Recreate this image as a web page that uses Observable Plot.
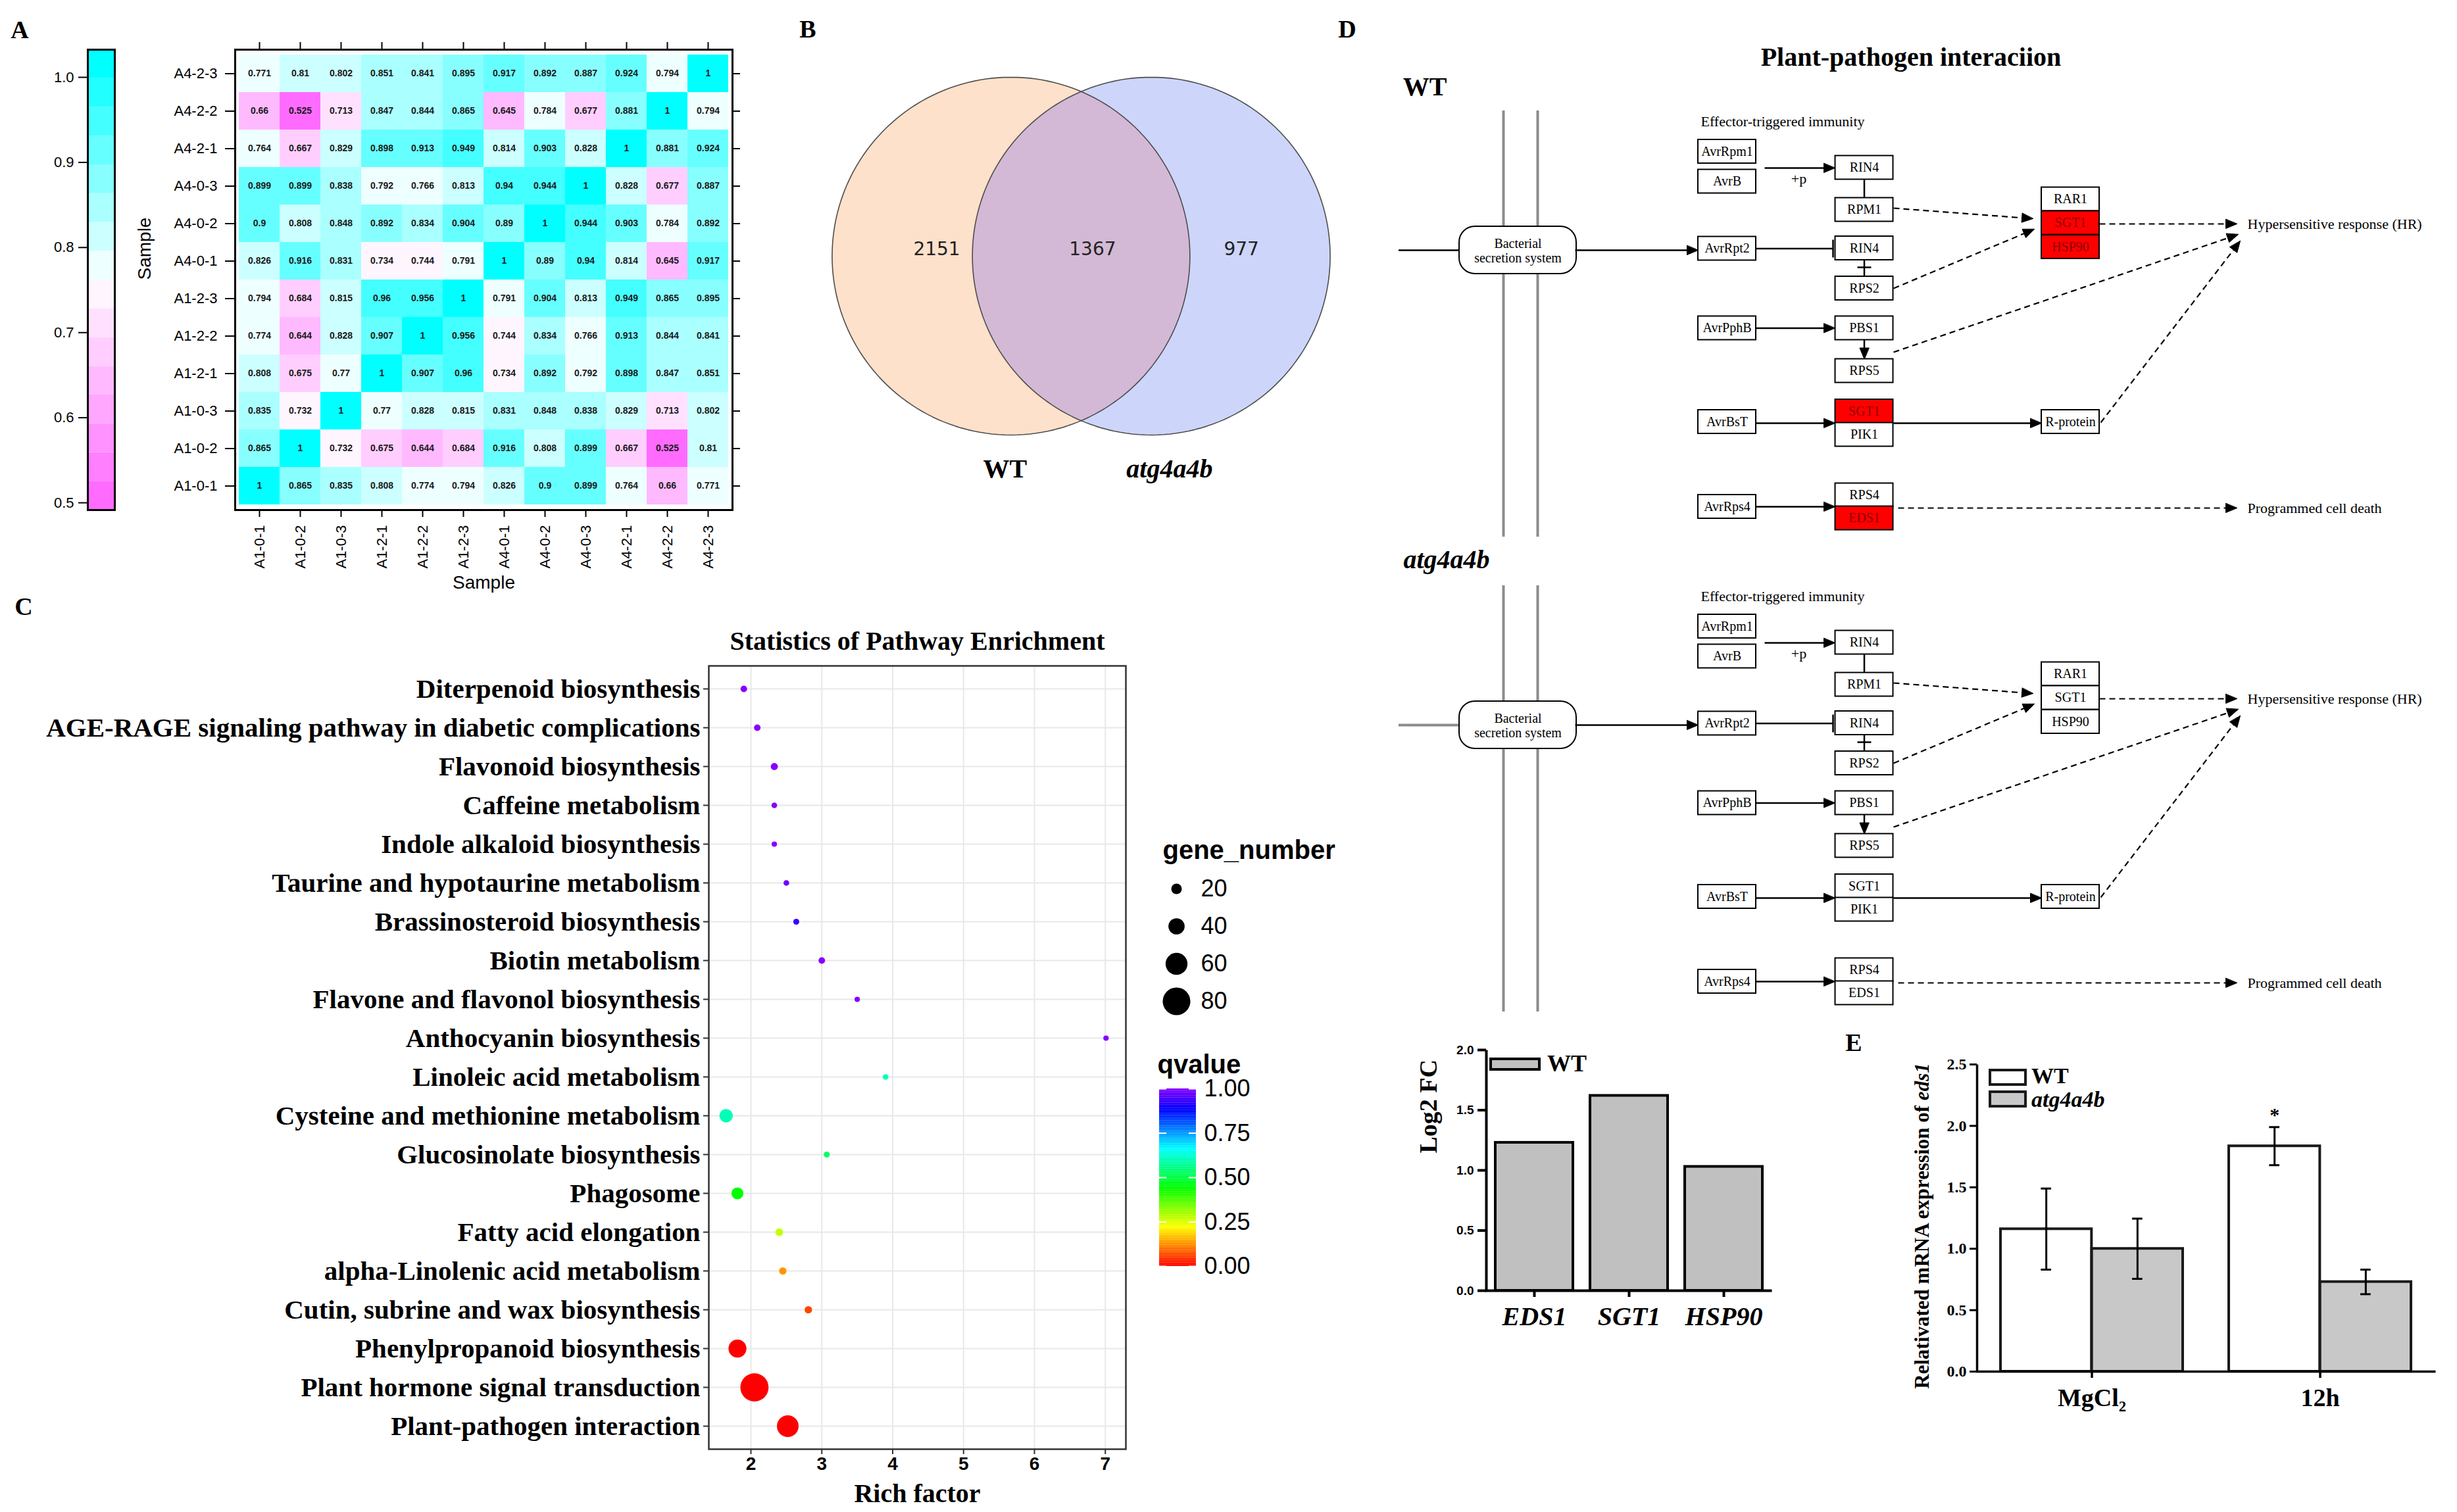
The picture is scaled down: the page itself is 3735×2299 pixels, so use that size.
<!DOCTYPE html>
<html><head><meta charset="utf-8">
<script src="https://cdn.jsdelivr.net/npm/d3@7"></script>
<script src="https://cdn.jsdelivr.net/npm/@observablehq/plot@0.6"></script>
<style>
html,body{margin:0;padding:0;background:#fff;}
#page{position:relative;width:3735px;height:2299px;background:#fff;overflow:hidden;}
</style></head><body><div id="page"></div>
<script>
// ================= DATA =================
// Panel A: sample correlation heatmap
const samples = ["A1-0-1","A1-0-2","A1-0-3","A1-2-1","A1-2-2","A1-2-3","A4-0-1","A4-0-2","A4-0-3","A4-2-1","A4-2-2","A4-2-3"];
const corrMatrix = [
  [1, 0.865, 0.835, 0.808, 0.774, 0.794, 0.826, 0.9, 0.899, 0.764, 0.66, 0.771],
  [0.865, 1, 0.732, 0.675, 0.644, 0.684, 0.916, 0.808, 0.899, 0.667, 0.525, 0.81],
  [0.835, 0.732, 1, 0.77, 0.828, 0.815, 0.831, 0.848, 0.838, 0.829, 0.713, 0.802],
  [0.808, 0.675, 0.77, 1, 0.907, 0.96, 0.734, 0.892, 0.792, 0.898, 0.847, 0.851],
  [0.774, 0.644, 0.828, 0.907, 1, 0.956, 0.744, 0.834, 0.766, 0.913, 0.844, 0.841],
  [0.794, 0.684, 0.815, 0.96, 0.956, 1, 0.791, 0.904, 0.813, 0.949, 0.865, 0.895],
  [0.826, 0.916, 0.831, 0.734, 0.744, 0.791, 1, 0.89, 0.94, 0.814, 0.645, 0.917],
  [0.9, 0.808, 0.848, 0.892, 0.834, 0.904, 0.89, 1, 0.944, 0.903, 0.784, 0.892],
  [0.899, 0.899, 0.838, 0.792, 0.766, 0.813, 0.94, 0.944, 1, 0.828, 0.677, 0.887],
  [0.764, 0.667, 0.829, 0.898, 0.913, 0.949, 0.814, 0.903, 0.828, 1, 0.881, 0.924],
  [0.66, 0.525, 0.713, 0.847, 0.844, 0.865, 0.645, 0.784, 0.677, 0.881, 1, 0.794],
  [0.771, 0.81, 0.802, 0.851, 0.841, 0.895, 0.917, 0.892, 0.887, 0.924, 0.794, 1]
];
const heatTicks = [0.5, 0.6, 0.7, 0.8, 0.9, 1.0];

// Panel B: Venn
const vennSets = ["WT", "atg4a4b"];
const vennRegions = ["WT only", "shared", "atg4a4b only"];
const vennCounts = [2151, 1367, 977];

// Panel C: KEGG enrichment
const pathways = ["Diterpenoid biosynthesis","AGE-RAGE signaling pathway in diabetic complications","Flavonoid biosynthesis","Caffeine metabolism","Indole alkaloid biosynthesis","Taurine and hypotaurine metabolism","Brassinosteroid biosynthesis","Biotin metabolism","Flavone and flavonol biosynthesis","Anthocyanin biosynthesis","Linoleic acid metabolism","Cysteine and methionine metabolism","Glucosinolate biosynthesis","Phagosome","Fatty acid elongation","alpha-Linolenic acid metabolism","Cutin, subrine and wax biosynthesis","Phenylpropanoid biosynthesis","Plant hormone signal transduction","Plant-pathogen interaction"];
const richFactor = [1.90, 2.09, 2.33, 2.33, 2.33, 2.50, 2.64, 3.00, 3.50, 7.01, 3.90, 1.65, 3.07, 1.81, 2.40, 2.45, 2.81, 1.81, 2.05, 2.52];
const geneNumber = [6, 6, 8, 3, 2, 3, 4, 6, 2, 2, 3, 30, 4, 25, 10, 9, 9, 46, 82, 59];
const qValue = [1, 1, 1, 1, 1, 0.98, 0.93, 1, 1, 1, 0.6, 0.6, 0.53, 0.44, 0.27, 0.13, 0.06, 0, 0, 0];
const richTicks = [2, 3, 4, 5, 6, 7];
const geneLegend = [20, 40, 60, 80];
const qTicks = [0, 0.25, 0.5, 0.75, 1];

// Panel D: pathway map
const pwNodeLabels = ["AvrRpm1","AvrB","AvrRpt2","AvrPphB","AvrBsT","AvrRps4","RIN4","RPM1","RIN4","RPS2","PBS1","RPS5","SGT1","PIK1","RPS4","EDS1","RAR1","SGT1","HSP90","R-protein"];
const wtUpGenes = ["SGT1", "HSP90", "EDS1"];
const mutUpGenes = [];

// Panel E: qPCR / log2FC
const fcGenes = ["EDS1", "SGT1", "HSP90"];
const fcWT = [1.23, 1.62, 1.03];
const eds1Groups = ["MgCl₂", "12h"];
const eds1WT = [1.16, 1.835];
const eds1WTsd = [0.33, 0.155];
const eds1Mut = [1.0, 0.73];
const eds1MutSd = [0.245, 0.10];
const eds1Sig = ["", "*"];

// ================= HELPERS =================
const page = document.getElementById("page");
const SERIF = '"Liberation Serif","Times New Roman",serif';
const SANS = '"Liberation Sans",Arial,sans-serif';
function place(el, left, top) {
  el.style.position = "absolute"; el.style.left = left + "px"; el.style.top = top + "px";
  page.appendChild(el); return el;
}
function html(content, css) {
  const d = document.createElement("div");
  d.innerHTML = content;
  d.style.cssText = "position:absolute;white-space:nowrap;line-height:1;" + css;
  page.appendChild(d); return d;
}
const baseStyle = {background: "transparent", overflow: "visible", fontFamily: SANS, color: "black"};

// panel letters
[["A", 30, 45], ["B", 1228, 44], ["C", 36, 922], ["D", 2048, 44], ["E", 2818, 1585]].forEach(([t, x, y]) =>
  html(t, `left:${x}px;top:${y}px;transform:translate(-50%,-50%);font:bold 38px ${SERIF};`));

// ================= PANEL A =================
const lo = 0.4915, hi = 1.0325, nb = 16, bstep = (hi - lo) / nb;
const breaks = d3.range(nb + 1).map(i => lo + i * bstep);
const bandColors = d3.range(nb).map(i => i < 7.5
  ? d3.interpolateRgb("#ff6bff", "#ffffff")(i / 7.5)
  : d3.interpolateRgb("#ffffff", "#00ffff")((i - 7.5) / 7.5));
const heatColor = {type: "threshold", domain: breaks.slice(1, -1), range: bandColors};
const cells = samples.flatMap((r, i) => samples.map((c, j) => ({row: r, col: c, v: corrMatrix[i][j]})));

const heat = Plot.plot({
  width: 940, height: 880, marginLeft: 157, marginRight: 27, marginTop: 35, marginBottom: 145,
  style: baseStyle,
  x: {type: "band", domain: samples, padding: 0, inset: 5},
  y: {type: "band", domain: samples.slice().reverse(), padding: 0, inset: 5},
  color: heatColor,
  marks: [
    Plot.cell(cells, {x: "col", y: "row", fill: "v", inset: 0}),
    Plot.text(cells, {x: "col", y: "row", text: d => String(d.v), fontSize: 14, fontWeight: "bold", fill: "#1a1a1a"}),
    Plot.frame({stroke: "#000", strokeWidth: 3}),
    Plot.axisY({anchor: "left", tickSize: 15, tickPadding: 12, fontSize: 22, strokeWidth: 2, label: null}),
    Plot.axisY({anchor: "right", tickSize: 11, tickFormat: () => "", strokeWidth: 2, label: null}),
    Plot.axisX({anchor: "bottom", tickRotate: -90, tickSize: 11, tickPadding: 12, fontSize: 22, strokeWidth: 2, label: null}),
    Plot.axisX({anchor: "top", tickSize: 12, tickFormat: () => "", strokeWidth: 2, label: null}),
    Plot.text(["Sample"], {frameAnchor: "left", dx: -137, rotate: -90, lineAnchor: "middle", text: d => d, fontSize: 28}),
    Plot.text(["Sample"], {frameAnchor: "bottom", dy: 111, lineAnchor: "middle", text: d => d, fontSize: 28})
  ]
});
place(heat, 200, 40);

const bandData = d3.range(nb).map(i => ({y1: breaks[i], y2: breaks[i + 1]}));
const heatBar = Plot.plot({
  width: 160, height: 740, marginLeft: 103, marginRight: 16, marginTop: 15, marginBottom: 25,
  style: baseStyle,
  y: {domain: [lo, hi]},
  color: heatColor,
  marks: [
    Plot.rect(bandData, {y1: "y1", y2: "y2", fill: d => (d.y1 + d.y2) / 2}),
    Plot.frame({stroke: "#000", strokeWidth: 3}),
    Plot.axisY({ticks: heatTicks, tickFormat: d3.format(".1f"), tickSize: 14, tickPadding: 7, fontSize: 22, strokeWidth: 2, label: null})
  ]
});
place(heatBar, 30, 60);

// ================= PANEL B =================
const vd = 0.392, vth = Math.acos(vd);
const circlePts = cx => d3.range(0, 361, 2).map(a => ({x: cx + Math.cos(a * Math.PI / 180), y: Math.sin(a * Math.PI / 180)}));
const lensPts = [
  ...d3.range(-vth, vth + 1e-9, vth / 40).map(a => ({x: -vd + Math.cos(a), y: Math.sin(a)})),
  ...d3.range(Math.PI - vth, Math.PI + vth + 1e-9, vth / 40).map(a => ({x: vd + Math.cos(a), y: Math.sin(a)}))
];
const vennLabelX = [-0.807, 0.064, 0.896];
const venn = Plot.plot({
  width: 830, height: 680, margin: 0, style: baseStyle,
  x: {domain: [-1.526, 1.526], range: [0, 830], axis: null},
  y: {domain: [-1.099, 1.401], range: [0, 680], axis: null},
  marks: [
    Plot.line(circlePts(-vd), {x: "x", y: "y", fill: "#fde1cb", stroke: "none", curve: "linear-closed"}),
    Plot.line(circlePts(vd), {x: "x", y: "y", fill: "#cdd6fa", stroke: "none", curve: "linear-closed"}),
    Plot.line(lensPts, {x: "x", y: "y", fill: "#d4b9d6", stroke: "none", curve: "linear-closed"}),
    Plot.line(circlePts(-vd), {x: "x", y: "y", stroke: "#4d4d4d", strokeWidth: 1.6, curve: "linear-closed"}),
    Plot.line(circlePts(vd), {x: "x", y: "y", stroke: "#4d4d4d", strokeWidth: 1.6, curve: "linear-closed"}),
    Plot.text(vennCounts, {x: (d, i) => vennLabelX[i], y: -0.04, text: d => String(d), fontSize: 28, fontFamily: '"DejaVu Sans",sans-serif', fill: "#222"}),
    Plot.text([vennSets[0]], {x: -0.425, y: 1.19, text: d => d, fontSize: 40, fontWeight: "bold", fontFamily: SERIF}),
    Plot.text([vennSets[1]], {x: 0.494, y: 1.19, text: d => d, fontSize: 40, fontWeight: "bold", fontStyle: "italic", fontFamily: SERIF})
  ]
});
place(venn, 1228, 90);

// ================= PANEL C =================
const pathwayData = pathways.map((p, i) => ({pathway: p, rich: richFactor[i], genes: geneNumber[i], q: qValue[i]}));
const sizeScale = {type: "linear", domain: [0, 80], range: [3.67, 21]};
const qColor = {type: "linear", domain: [0, 1], range: ["hsl(0,100%,50%)", "hsl(272,100%,50%)"], interpolate: d3.interpolateHslLong};

const bubble = Plot.plot({
  width: 1740, height: 1359, marginLeft: 1077, marginRight: 29, marginTop: 72, marginBottom: 96,
  style: baseStyle,
  x: {domain: [1.406, 7.29]},
  y: {type: "point", domain: pathways, padding: 0.58},
  r: sizeScale,
  color: qColor,
  marks: [
    Plot.gridX({ticks: richTicks, stroke: "#e8e8e8", strokeOpacity: 1, strokeWidth: 2}),
    Plot.gridY({stroke: "#e8e8e8", strokeOpacity: 1, strokeWidth: 2}),
    Plot.frame({stroke: "#333", strokeWidth: 2.5}),
    Plot.dot(pathwayData, {x: "rich", y: "pathway", r: "genes", fill: "q", stroke: "none"}),
    Plot.axisY({tickSize: 8, tickPadding: 5, fontSize: 41, fontFamily: SERIF, fontWeight: "bold", strokeWidth: 2, stroke: "#333", label: null}),
    Plot.axisX({ticks: richTicks, tickFormat: d3.format("d"), tickSize: 8, tickPadding: 4, fontSize: 28, fontFamily: SANS, fontWeight: "bold", strokeWidth: 2, stroke: "#333", label: null}),
    Plot.text(["Statistics of Pathway Enrichment"], {frameAnchor: "top", dy: -37, lineAnchor: "middle", text: d => d, fontSize: 40, fontWeight: "bold", fontFamily: SERIF}),
    Plot.text(["Rich factor"], {frameAnchor: "bottom", dy: 68, lineAnchor: "middle", text: d => d, fontSize: 40, fontWeight: "bold", fontFamily: SERIF})
  ]
});
place(bubble, 0, 940);

const sizeLegend = Plot.plot({
  width: 240, height: 280, marginLeft: 48, marginRight: 0, marginTop: 80, marginBottom: 28,
  style: baseStyle,
  y: {type: "point", domain: geneLegend, padding: 0, axis: null},
  r: sizeScale,
  marks: [
    Plot.dot(geneLegend, {y: d => d, r: d => d, fill: "black", frameAnchor: "left"}),
    Plot.text(geneLegend, {y: d => d, text: d => String(d), frameAnchor: "left", dx: 37, textAnchor: "start", fontSize: 36}),
    Plot.text(["gene_number"], {frameAnchor: "top-left", dx: -21, dy: -57, lineAnchor: "middle", text: d => d, textAnchor: "start", fontSize: 40, fontWeight: "bold"})
  ]
});
place(sizeLegend, 1740, 1270);

const qBins = d3.range(0, 1, 0.01);
const qLegend = Plot.plot({
  width: 240, height: 340, marginLeft: 22, marginRight: 162, marginTop: 55, marginBottom: 15,
  style: baseStyle,
  y: {domain: [0, 1], axis: null},
  color: qColor,
  marks: [
    Plot.rect(qBins, {y1: d => d, y2: d => Math.min(1, d + 0.0105), fill: d => d + 0.005}),
    Plot.tickY(qTicks, {y: d => d, stroke: "white", strokeWidth: 2, insetRight: 45}),
    Plot.tickY(qTicks, {y: d => d, stroke: "white", strokeWidth: 2, insetLeft: 45}),
    Plot.text(qTicks, {y: d => d, text: d3.format(".2f"), frameAnchor: "right", dx: 12, textAnchor: "start", fontSize: 36}),
    Plot.text(["qvalue"], {frameAnchor: "top-left", dx: -3, dy: -36, lineAnchor: "middle", text: d => d, textAnchor: "start", fontSize: 40, fontWeight: "bold"})
  ]
});
place(qLegend, 1740, 1600);

// ================= PANEL D =================
// layout (diagram units)
const pwColX = [525, 733.5, 1047];
const pwNodeLayout = [[0, 80], [0, 125.5], [0, 227.5], [0, 348.5], [0, 491], [0, 620],
  [1, 104.5], [1, 168.5], [1, 227], [1, 288], [1, 348.5], [1, 413.5], [1, 475], [1, 510.5], [1, 602.5], [1, 637.5],
  [2, 152.5], [2, 188.5], [2, 225], [2, 491]];
const pwNodes = pwNodeLabels.map((l, i) => ({label: l, x: pwColX[pwNodeLayout[i][0]], y: pwNodeLayout[i][1]}));
const pwEdges = [
  {x1: 294, y1: 230, x2: 481, y2: 230, dash: false, head: "arrow"},
  {x1: 582, y1: 105, x2: 689, y2: 105, dash: false, head: "arrow"},
  {x1: 569, y1: 227.5, x2: 686, y2: 227.5, dash: false, head: "bar"},
  {x1: 733.5, y1: 122.5, x2: 733.5, y2: 150.5, dash: false, head: "none"},
  {x1: 733.5, y1: 245, x2: 733.5, y2: 270, dash: false, head: "none"},
  {x1: 569, y1: 348.5, x2: 689, y2: 348.5, dash: false, head: "arrow"},
  {x1: 733.5, y1: 366.5, x2: 733.5, y2: 395.5, dash: false, head: "arrow"},
  {x1: 569, y1: 493, x2: 689, y2: 493, dash: false, head: "arrow"},
  {x1: 778, y1: 493, x2: 1003, y2: 493, dash: false, head: "arrow"},
  {x1: 569, y1: 620, x2: 689, y2: 620, dash: false, head: "arrow"},
  {x1: 778, y1: 166, x2: 990, y2: 182, dash: true, head: "arrow"},
  {x1: 778, y1: 288, x2: 992, y2: 198, dash: true, head: "arrow"},
  {x1: 1091, y1: 190, x2: 1300, y2: 190, dash: true, head: "arrow"},
  {x1: 778, y1: 385, x2: 1302, y2: 206, dash: true, head: "arrow"},
  {x1: 1093, y1: 492, x2: 1305, y2: 216, dash: true, head: "arrow"},
  {x1: 785, y1: 622, x2: 1300, y2: 622, dash: true, head: "arrow"}
];
const pwBars = [{x1: 686, x2: 686, y1: 214, y2: 241}, {x1: 723, x2: 744, y1: 256, y2: 256}];
const pwBSS = {x1: 118, x2: 296, y1: 194, y2: 266, cx: 207, cy: 230};
const pwNotes = [
  {t: "Effector-triggered immunity", x: 485, y: 34, a: "start"},
  {t: "+p", x: 634, y: 121, a: "middle"},
  {t: "Hypersensitive response (HR)", x: 1316, y: 190, a: "start"},
  {t: "Programmed cell death", x: 1316, y: 622, a: "start"}
];

function pathwayPlot(redGenes, inputColor, inputWidth) {
  const heads = [], shafts = [];
  pwEdges.forEach((e, k) => {
    if (e.head !== "arrow") { shafts.push(e); return; }
    const dx = e.x2 - e.x1, dy = e.y2 - e.y1, L = Math.hypot(dx, dy), ux = dx / L, uy = dy / L;
    const bx = e.x2 - 17 * ux, by = e.y2 - 17 * uy;
    heads.push({k, x: e.x2, y: e.y2}, {k, x: bx - 7 * uy, y: by + 7 * ux}, {k, x: bx + 7 * uy, y: by - 7 * ux});
    shafts.push({...e, x2: e.x2 - 12 * ux, y2: e.y2 - 12 * uy});
  });
  const red = d => redGenes.includes(d.label);
  return Plot.plot({
    width: 1635, height: 690, margin: 0, style: baseStyle,
    x: {domain: [0, 1635], range: [0, 1635], axis: null},
    y: {domain: [0, 690], range: [0, 690], axis: null},
    marks: [
      Plot.ruleX([185, 237], {x: d => d, y1: 18, y2: 666, stroke: "#8c8c8c", strokeWidth: 4}),
      Plot.ruleY([pwBSS.cy], {y: d => d, x1: 26, x2: pwBSS.x1, stroke: inputColor, strokeWidth: inputWidth}),
      Plot.rect([pwBSS], {x1: "x1", x2: "x2", y1: "y1", y2: "y2", rx: 24, fill: "white", stroke: "black", strokeWidth: 2}),
      Plot.text(["Bacterial\nsecretion system"], {x: pwBSS.cx, y: pwBSS.cy, text: d => d, fontSize: 20, fontFamily: SERIF, lineHeight: 1.1}),
      Plot.link(shafts.filter(d => !d.dash), {x1: "x1", y1: "y1", x2: "x2", y2: "y2", stroke: "black", strokeWidth: 2.5}),
      Plot.link(shafts.filter(d => d.dash), {x1: "x1", y1: "y1", x2: "x2", y2: "y2", stroke: "black", strokeWidth: 2.2, strokeDasharray: "9,6"}),
      Plot.link(pwBars, {x1: "x1", y1: "y1", x2: "x2", y2: "y2", stroke: "black", strokeWidth: 2.5}),
      Plot.line(heads, {x: "x", y: "y", z: "k", fill: "black", stroke: "black", strokeWidth: 1, curve: "linear-closed"}),
      Plot.rect(pwNodes, {x1: d => d.x - 44, x2: d => d.x + 44, y1: d => d.y - 18, y2: d => d.y + 18,
        fill: d => red(d) ? "#ff0000" : "#ffffff", stroke: "black", strokeWidth: 2}),
      Plot.text(pwNodes, {x: "x", y: "y", text: "label", fontSize: 20, fontFamily: SERIF, fill: d => red(d) ? "#8b0000" : "#000000"}),
      Plot.text(pwNotes, {x: "x", y: "y", text: "t", textAnchor: "start", fontSize: 22, fontFamily: SERIF, filter: d => d.a === "start"}),
      Plot.text(pwNotes, {x: "x", y: "y", text: "t", fontSize: 22, fontFamily: SERIF, filter: d => d.a === "middle"})
    ]
  });
}
place(pathwayPlot(wtUpGenes, "#000", 2.5), 2100, 150);
place(pathwayPlot(mutUpGenes, "#8c8c8c", 4), 2100, 872);
html("Plant-pathogen interaciion", `left:2905px;top:86px;transform:translate(-50%,-50%);font:bold 40px ${SERIF};`);
html("WT", `left:2166px;top:131px;transform:translate(-50%,-50%);font:bold 40px ${SERIF};`);
html("atg4a4b", `left:2199px;top:850px;transform:translate(-50%,-50%);font:italic bold 40px ${SERIF};`);

// ================= PANEL E (left) =================
const fcData = fcGenes.map((g, i) => ({gene: g, v: fcWT[i]}));
const fcW = 600, fcH = 480, fcML = 129, fcMR = 37, fcMT = 36, fcMB = 78;
const fcP = (fcW - fcML - fcMR) + (fcH - fcMT - fcMB);
const fcPlot = Plot.plot({
  width: fcW, height: fcH, marginLeft: fcML, marginRight: fcMR, marginTop: fcMT, marginBottom: fcMB,
  style: baseStyle,
  x: {type: "band", domain: fcGenes, paddingInner: 0.183, paddingOuter: 0.09},
  y: {domain: [0, 2]},
  marks: [
    Plot.barY(fcData, {x: "gene", y: "v", fill: "#c0c0c0", stroke: "#000", strokeWidth: 4}),
    Plot.frame({stroke: "#000", strokeWidth: 4, strokeDasharray: `0,${fcP},${fcP}`}),
    Plot.axisY({ticks: [0, 0.5, 1, 1.5, 2], tickFormat: d3.format(".1f"), tickSize: 13, tickPadding: 6, fontSize: 19, fontWeight: "bold", fontFamily: SANS, strokeWidth: 4, label: null}),
    Plot.axisX({tickSize: 10, tickPadding: 14, fontSize: 40, fontStyle: "italic", fontWeight: "bold", fontFamily: SERIF, strokeWidth: 4, label: null}),
    Plot.text(["Log2 FC"], {frameAnchor: "left", dx: -88, dy: -26, rotate: -90, lineAnchor: "middle", text: d => d, fontSize: 38, fontWeight: "bold", fontFamily: SERIF})
  ]
});
place(fcPlot, 2130, 1560);
html("", `left:2264px;top:1608px;width:78px;height:20px;box-sizing:border-box;border:4px solid #000;background:#c0c0c0;`);
html("WT", `left:2352px;top:1617px;transform:translate(0,-50%);font:bold 36px ${SERIF};`);

// ================= PANEL E (right) =================
const exData = eds1Groups.map((g, i) => ({group: g, wt: eds1WT[i], wtsd: eds1WTsd[i], mut: eds1Mut[i], mutsd: eds1MutSd[i], sig: eds1Sig[i]}));
const exW = 850, exH = 590, exML = 125, exMR = 28, exMT = 38, exMB = 85;
const exFW = exW - exML - exMR, exFH = exH - exMT - exMB, exP = exFW + exFH;
const exPI = 0.2017, exPO = 0.104;
const exBW = exFW / (eds1Groups.length - exPI + 2 * exPO) * (1 - exPI);
const capW = 16;
const exPlot = Plot.plot({
  width: exW, height: exH, marginLeft: exML, marginRight: exMR, marginTop: exMT, marginBottom: exMB,
  style: baseStyle,
  x: {type: "band", domain: eds1Groups, paddingInner: exPI, paddingOuter: exPO},
  y: {domain: [0, 2.5]},
  marks: [
    Plot.barY(exData, {x: "group", y: "wt", insetRight: exBW / 2, fill: "#ffffff", stroke: "#1a1a1a", strokeWidth: 4}),
    Plot.barY(exData, {x: "group", y: "mut", insetLeft: exBW / 2, fill: "#c8c8c8", stroke: "#1a1a1a", strokeWidth: 4}),
    Plot.ruleX(exData, {x: "group", y1: d => d.wt - d.wtsd, y2: d => d.wt + d.wtsd, dx: -exBW / 4, stroke: "#000", strokeWidth: 3}),
    Plot.ruleX(exData, {x: "group", y1: d => d.mut - d.mutsd, y2: d => d.mut + d.mutsd, dx: exBW / 4, stroke: "#000", strokeWidth: 3}),
    Plot.tickY(exData, {x: "group", y: d => d.wt + d.wtsd, dx: -exBW / 4, insetLeft: (exBW - capW) / 2, insetRight: (exBW - capW) / 2, stroke: "#000", strokeWidth: 3}),
    Plot.tickY(exData, {x: "group", y: d => d.wt - d.wtsd, dx: -exBW / 4, insetLeft: (exBW - capW) / 2, insetRight: (exBW - capW) / 2, stroke: "#000", strokeWidth: 3}),
    Plot.tickY(exData, {x: "group", y: d => d.mut + d.mutsd, dx: exBW / 4, insetLeft: (exBW - capW) / 2, insetRight: (exBW - capW) / 2, stroke: "#000", strokeWidth: 3}),
    Plot.tickY(exData, {x: "group", y: d => d.mut - d.mutsd, dx: exBW / 4, insetLeft: (exBW - capW) / 2, insetRight: (exBW - capW) / 2, stroke: "#000", strokeWidth: 3}),
    Plot.text(exData, {x: "group", y: d => d.wt + d.wtsd + 0.1, dx: -exBW / 4, text: "sig", fontSize: 30, fontWeight: "bold", fontFamily: SERIF}),
    Plot.frame({stroke: "#000", strokeWidth: 3.5, strokeDasharray: `0,${exP},${exP}`}),
    Plot.axisY({ticks: [0, 0.5, 1, 1.5, 2, 2.5], tickFormat: d3.format(".1f"), tickSize: 11, tickPadding: 5, fontSize: 24, fontWeight: "bold", fontFamily: SERIF, strokeWidth: 3, label: null}),
    Plot.axisX({tickSize: 10, tickPadding: 16, fontSize: 38, fontWeight: "bold", fontFamily: SERIF, strokeWidth: 3.5, label: null})
  ]
});
place(exPlot, 2880, 1580);
html("", `left:3023px;top:1625px;width:58px;height:26px;box-sizing:border-box;border:4px solid #1a1a1a;background:#fff;`);
html("", `left:3023px;top:1658px;width:58px;height:26px;box-sizing:border-box;border:4px solid #1a1a1a;background:#c8c8c8;`);
html("WT", `left:3088px;top:1636px;transform:translate(0,-50%);font:bold 34px ${SERIF};`);
html("atg4a4b", `left:3088px;top:1672px;transform:translate(0,-50%);font:italic bold 34px ${SERIF};`);
html("Relativated mRNA expression of <i>eds1</i>", `left:2922px;top:1864px;transform:translate(-50%,-50%) rotate(-90deg);font:bold 31px ${SERIF};`);
</script></body></html>
